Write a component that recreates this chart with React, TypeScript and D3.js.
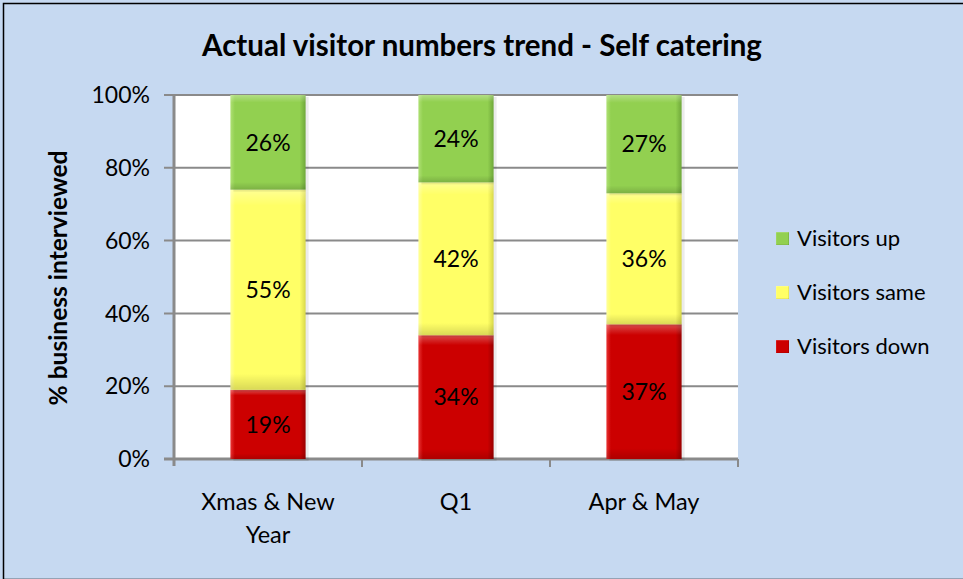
import React from "react";
import * as d3 from "d3";

const categories = ["Xmas & New Year", "Q1", "Apr & May"];
const categoryLines = [["Xmas & New", "Year"], ["Q1"], ["Apr & May"]];
const seriesNames = ["Visitors down", "Visitors same", "Visitors up"];
const visitorsDown = [19, 34, 37];
const visitorsSame = [55, 42, 36];
const visitorsUp = [26, 24, 27];
const yTicks = [0, 20, 40, 60, 80, 100];
const legendOrder = ["Visitors up", "Visitors same", "Visitors down"];

const colors: Record<string, { base: string; light: string; dark: string }> = {
  "Visitors down": { base: "#cc0000", light: "#e83434", dark: "#990000" },
  "Visitors same": { base: "#ffff66", light: "#ffff9a", dark: "#d8d84a" },
  "Visitors up": { base: "#92d050", light: "#aee074", dark: "#6fa83a" },
};

const W = 963;
const H = 579;
const M = { left: 174, right: 738, top: 95, bottom: 459 };
const FONT = "Lato, 'Open Sans', sans-serif";

export default function App() {
  const rows = categories.map((c, i) => ({
    cat: c,
    "Visitors down": visitorsDown[i],
    "Visitors same": visitorsSame[i],
    "Visitors up": visitorsUp[i],
  }));
  const stacked = d3.stack<any>().keys(seriesNames)(rows);
  const x = d3.scaleBand().domain(categories).range([M.left, M.right]).paddingInner(0.6).paddingOuter(0.3);
  const xOuter = d3.scaleBand().domain(categories).range([M.left, M.right]);
  const y = d3.scaleLinear().domain([0, 100]).range([M.bottom, M.top]);
  const bw = x.bandwidth();

  return (
    <svg width={W} height={H} style={{ position: "absolute", left: 0, top: 0 }} fontFamily={FONT}>
      <defs>
        {seriesNames.map((s, i) => (
          <g key={s}>
            <linearGradient id={`h${i}`} x1="0" x2="1" y1="0" y2="0">
              <stop offset="0" stopColor={colors[s].light} />
              <stop offset="0.06" stopColor={colors[s].base} />
              <stop offset="0.92" stopColor={colors[s].base} />
              <stop offset="1" stopColor={colors[s].dark} />
            </linearGradient>
            <linearGradient id={`v${i}`} x1="0" x2="0" y1="0" y2="1">
              <stop offset="0" stopColor="#ffffff" stopOpacity="0.3" />
              <stop offset="0.08" stopColor="#ffffff" stopOpacity="0" />
              <stop offset="0.92" stopColor="#000000" stopOpacity="0" />
              <stop offset="1" stopColor="#000000" stopOpacity="0.15" />
            </linearGradient>
          </g>
        ))}
      </defs>
      <rect x={0} y={0} width={W} height={H} fill="#c6d9f1" />
      <rect x={3.5} y={3.5} width={W + 10} height={H - 3} fill="none" stroke="#000" strokeWidth={1.5} />
      <rect x={M.left} y={M.top} width={M.right - M.left} height={M.bottom - M.top} fill="#ffffff" />
      {yTicks.map((t) => (
        <g key={t}>
          <line x1={M.left - 10} x2={M.right} y1={y(t)} y2={y(t)} stroke="#8a8a8a" strokeWidth={t === 0 ? 3 : 2} />
          <text x={150} y={y(t)} dy="0.36em" textAnchor="end" fontSize={23} fill="#000">{t}%</text>
        </g>
      ))}
      <line x1={M.left} x2={M.left} y1={M.top} y2={M.bottom + 7} stroke="#8a8a8a" strokeWidth={3} />
      {categories.map((c) => (
        <line key={c} x1={(xOuter(c) as number) + xOuter.bandwidth()} x2={(xOuter(c) as number) + xOuter.bandwidth()} y1={M.bottom} y2={M.bottom + 8} stroke="#8a8a8a" strokeWidth={2} />
      ))}
      {stacked.map((layer, si) => (
        <g key={layer.key}>
          {layer.map((d, i) => {
            const x0 = x(categories[i]) as number;
            const y0 = y(d[1]);
            const h = y(d[0]) - y(d[1]);
            return (
              <g key={i}>
                <rect x={x0 + 3} y={y0 + 2} width={bw} height={h} fill="#000" opacity={0.08} />
                <rect x={x0} y={y0} width={bw} height={h} fill={`url(#h${si})`} />
                <rect x={x0} y={y0} width={bw} height={h} fill={`url(#v${si})`} />
                <text x={x0 + bw / 2} y={y0 + h / 2} dy="0.36em" textAnchor="middle" fontSize={23} fill="#000">
                  {d[1] - d[0]}%
                </text>
              </g>
            );
          })}
        </g>
      ))}
      {categories.map((c, i) => (
        <text key={c} x={(x(c) as number) + bw / 2} y={502} textAnchor="middle" fontSize={23.5} fill="#000">
          {categoryLines[i].map((l, j) => (
            <tspan key={j} x={(x(c) as number) + bw / 2} dy={j === 0 ? "0.36em" : 33}>{l}</tspan>
          ))}
        </text>
      ))}
      <text x={482} y={45} dy="0.36em" textAnchor="middle" fontSize={29.5} fontWeight="bold" fill="#000">
        Actual visitor numbers trend - Self catering
      </text>
      <text transform={`translate(58,278) rotate(-90)`} dy="0.36em" textAnchor="middle" fontSize={24.5} fontWeight="bold" fill="#000">
        % business interviewed
      </text>
      {legendOrder.map((s, i) => {
        const idx = seriesNames.indexOf(s);
        const ly = 238 + i * 54;
        return (
          <g key={s}>
            <rect x={776} y={ly - 6} width={13} height={13} fill={`url(#h${idx})`} />
            <rect x={776} y={ly - 6} width={13} height={13} fill={`url(#v${idx})`} />
            <text x={797} y={ly} dy="0.36em" fontSize={22} fill="#000">{s}</text>
          </g>
        );
      })}
    </svg>
  );
}
